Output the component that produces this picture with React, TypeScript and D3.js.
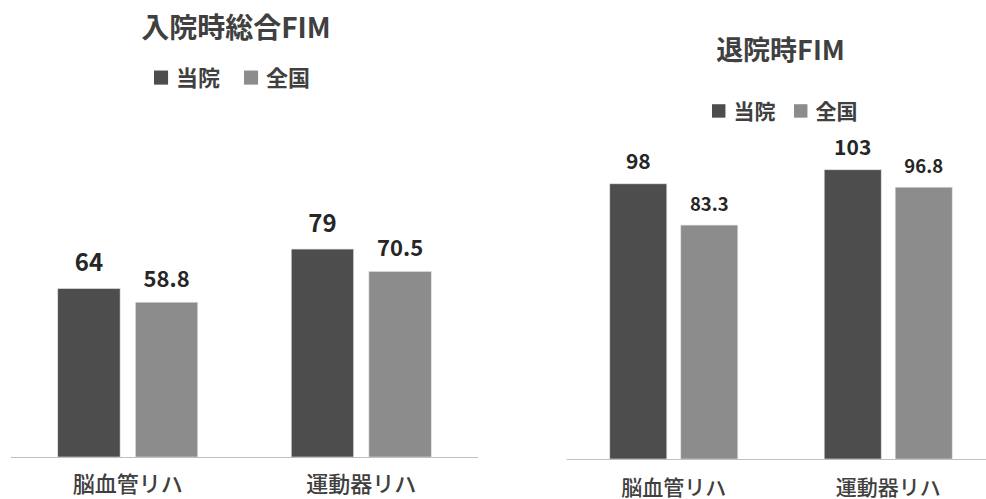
import * as React from 'react';
import * as d3 from 'd3';

const categories = ['脳血管リハ', '運動器リハ'];
const seriesNames = ['当院', '全国'];
const admissionOurs = [64, 79];
const admissionNational = [58.8, 70.5];
const dischargeOurs = [98, 103];
const dischargeNational = [83.3, 96.8];

const colors = ['#4d4d4d', '#8c8c8c'];
const FONT = "'Noto Sans CJK JP', 'Noto Sans', sans-serif";

type PanelProps = {
  title: string;
  values: number[][];
  xRange: [number, number];
  baseline: number;
  pxPerUnit: number;
  groupWidth: number;
  titleX: number;
  titleY: number;
  titleSize: number;
  legendX: number[];
  legendY: number;
  legendSize: number;
  valueSizes: number[];
  valueGaps: number[];
  catY: number;
  catSize: number;
};

function Panel(p: PanelProps) {
  const x0 = d3.scaleBand<string>().domain(categories).range(p.xRange).padding(0);
  const x1 = d3.scaleBand<string>().domain(seriesNames).range([0, p.groupWidth]).paddingInner(0.197).paddingOuter(0);
  const y = d3.scaleLinear().domain([0, 100]).range([p.baseline, p.baseline - 100 * p.pxPerUnit]);
  const off = (x0.bandwidth() - p.groupWidth) / 2;
  const sq = p.legendSize * 0.64;

  return (
    <g>
      <text x={p.titleX} y={p.titleY} textAnchor="middle" fontSize={p.titleSize} fontWeight={700} fill="#404040">{p.title}</text>
      {seriesNames.map((s, i) => (
        <g key={s}>
          <rect x={p.legendX[i]} y={p.legendY - p.legendSize * 0.36 - sq / 2} width={sq} height={sq} fill={colors[i]} />
          <text x={p.legendX[i] + sq + 8} y={p.legendY} fontSize={p.legendSize} fontWeight={700} fill="#404040">{s}</text>
        </g>
      ))}
      {categories.map((c, ci) => (
        <g key={c} transform={`translate(${x0(c)! + off},0)`}>
          {seriesNames.map((s, si) => {
            const v = p.values[si][ci];
            return (
              <g key={s}>
                <rect x={x1(s)!} y={y(v)} width={x1.bandwidth()} height={y(0) - y(v)} fill={colors[si]} stroke="#e0e0e0" strokeWidth={0.6} />
                <text x={x1(s)! + x1.bandwidth() / 2} y={y(v) - p.valueGaps[si]} textAnchor="middle" fontSize={p.valueSizes[si]} fontWeight={600} fill="#262626">{String(v)}</text>
              </g>
            );
          })}
        </g>
      ))}
      <line x1={p.xRange[0]} x2={p.xRange[1]} y1={p.baseline + 0.5} y2={p.baseline + 0.5} stroke="#bfbfbf" strokeWidth={1.2} />
      {categories.map(c => (
        <text key={c} x={x0(c)! + x0.bandwidth() / 2} y={p.catY} textAnchor="middle" fontSize={p.catSize} fontWeight={500} fill="#404040">{c}</text>
      ))}
    </g>
  );
}

export default function App() {
  return (
    <svg width={986} height={499} style={{ position: 'absolute', left: 0, top: 0, background: '#fff' }} fontFamily={FONT}>
      <rect width={986} height={499} fill="#fff" />
      <Panel
        title="入院時総合FIM"
        values={[admissionOurs, admissionNational]}
        xRange={[11, 478]}
        baseline={457}
        pxPerUnit={2.632}
        groupWidth={140}
        titleX={236}
        titleY={37.5}
        titleSize={28}
        legendX={[154, 244]}
        legendY={85.5}
        legendSize={22}
        valueSizes={[24, 22]}
        valueGaps={[17.5, 15.5]}
        catY={492}
        catSize={22}
      />
      <Panel
        title="退院時FIM"
        values={[dischargeOurs, dischargeNational]}
        xRange={[566.6, 995.4]}
        baseline={459}
        pxPerUnit={2.808}
        groupWidth={128}
        titleX={780.5}
        titleY={60}
        titleSize={27}
        legendX={[712, 794]}
        legendY={118.5}
        legendSize={21}
        valueSizes={[21, 18.5]}
        valueGaps={[14.5, 13.8]}
        catY={494.5}
        catSize={21}
      />
    </svg>
  );
}
